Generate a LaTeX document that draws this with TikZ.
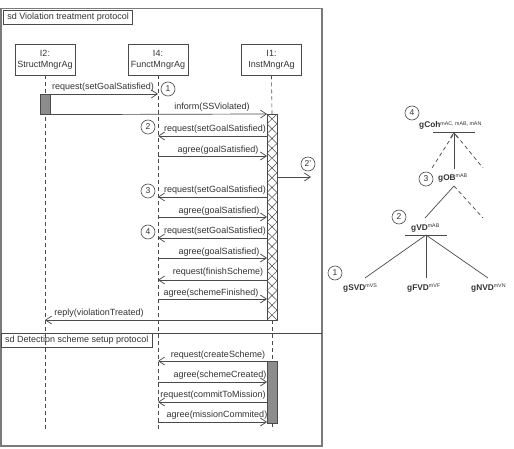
\documentclass[tikz,border=0pt]{standalone}
\usepackage{fontspec}
\setmainfont{Liberation Sans}
\usetikzlibrary{arrows.meta}
\definecolor{ln}{HTML}{4A4A4A}
\definecolor{tx}{HTML}{333333}
\definecolor{fr}{HTML}{7A7A7A}
\definecolor{act}{HTML}{8C8C8C}
\begin{document}
\begin{tikzpicture}[x=1pt,y=-1pt,
  every node/.style={text=tx,font=\fontsize{9}{10}\selectfont,inner sep=0pt},
  msg/.style={draw=ln,line width=0.7pt,-{Straight Barb[length=6pt,width=8pt]}},
  lbl/.style={anchor=center},
  life/.style={draw=ln,line width=0.6pt,dash pattern=on 4pt off 3pt},
  lbox/.style={draw=ln,line width=0.6pt,minimum width=60pt,minimum height=31pt,align=center,font=\fontsize{9}{11}\selectfont},
  sdbox/.style={draw=ln,line width=0.8pt,anchor=north west,fill=white,inner xsep=4pt,inner ysep=3pt},
  num/.style={draw=ln,circle,minimum size=14pt,line width=0.6pt,font=\fontsize{8.5}{9}\selectfont},
  gl/.style={anchor=base west,font=\fontsize{8.3}{9}\bfseries\selectfont},
  tl/.style={draw=ln,line width=0.7pt},
  td/.style={draw=ln,line width=0.7pt,dash pattern=on 4pt off 3pt}]
\useasboundingbox (0,0) rectangle (514,449);
\fill[white] (0,0) rectangle (514,449);
% frame
\draw[fr,line width=1.6pt] (0.8,8.5) -- (322,8.5) -- (322,446) -- (0.8,446) -- cycle;
\draw[ln,line width=0.9pt] (0.8,333) -- (322,333);
\node[sdbox] (sd1) at (3,10) {sd Violation treatment protocol};
\node[sdbox] (sd2) at (0.8,333) {sd Detection scheme setup protocol};
% lifeline heads
\node[lbox] (L2) at (45,59.5) {I2:\\StructMngrAg};
\node[lbox] (L4) at (158,59.5) {I4:\\FunctMngrAg};
\node[lbox] (L1) at (271.5,59.5) {I1:\\InstMngrAg};
% lifelines
\coordinate (e2) at (45,430);
\coordinate (e4) at (158,430);
\draw[life] (L2.south) -- (e2);
\draw[life] (L4.south) -- (e4);
\draw[life] (L1.south) -- (272,114);
\draw[life] (272,320) -- (272,361);
\draw[life] (272,423) -- (272,430);
% activations
\node[draw=ln,fill=act,line width=0.6pt,minimum width=10pt,minimum height=20pt,anchor=north west] (A2) at (40,94) {};
\draw[ln,line width=0.6pt,fill=white] (267,114) rectangle (277,320);
\foreach \i in {0,...,20}{
  \pgfmathsetmacro{\ya}{114+\i*206/21}
  \pgfmathsetmacro{\yb}{114+(\i+1)*206/21}
  \draw[ln,line width=0.5pt] (267,\ya) -- (277,\yb) (277,\ya) -- (267,\yb);
}
\node[draw=ln,fill=act,line width=0.6pt,minimum width=10pt,minimum height=62pt,anchor=north west] (A1b) at (267,361) {};
% coordinates on lifelines
\foreach \n/\y in {a/136,b/156,c/197,d/217,e/238,f/258,g/280,h/299,i/361,j/382,k/402,l/422}{
  \coordinate (p\n) at (158,\y);
  \coordinate (q\n) at (267,\y);
}
\coordinate (r1) at (158,94);
\coordinate (r2) at (267,114);
\coordinate (r3) at (45,320);
\coordinate (r4) at (267,320);
\coordinate (s1) at (277,177);
\coordinate (s2) at (311,177);
% messages
\draw[msg] (A2.north east) -- (r1);
\node[lbl] at (103,87) {request(setGoalSatisfied)};
\draw[msg] (A2.south east) -- (r2);
\node[lbl] at (212,107) {inform(SSViolated)};
\draw[msg] (qa) -- (pa);
\node[lbl] at (215,129.5) {request(setGoalSatisfied)};
\draw[msg] (pb) -- (qb);
\node[lbl] at (218,150) {agree(goalSatisfied)};
\draw[msg] (qc) -- (pc);
\node[lbl] at (215,190.5) {request(setGoalSatisfied)};
\draw[msg] (pd) -- (qd);
\node[lbl] at (219,211) {agree(goalSatisfied)};
\draw[msg] (qe) -- (pe);
\node[lbl] at (215,231.5) {request(setGoalSatisfied)};
\draw[msg] (pf) -- (qf);
\node[lbl] at (219,252) {agree(goalSatisfied)};
\draw[msg] (qg) -- (pg);
\node[lbl] at (218,272.5) {request(finishScheme)};
\draw[msg] (ph) -- (qh);
\node[lbl] at (211,293) {agree(schemeFinished)};
\draw[msg] (r4) -- (r3);
\node[lbl] at (99,313) {reply(violationTreated)};
\draw[msg] (s1) -- (s2);
\draw[msg] (qi) -- (pi);
\node[lbl] at (218,355) {request(createScheme)};
\draw[msg] (pj) -- (qj);
\node[lbl] at (220,375.5) {agree(schemeCreated)};
\draw[msg] (qk) -- (pk);
\node[lbl] at (213,395.5) {request(commitToMission)};
\draw[msg] (pl) -- (ql);
\node[lbl] at (217,415.5) {agree(missionCommited)};
% numbered circles (sequence)
\node[num] (c1) at (168,89) {1};
\node[num] (c2) at (148,127) {2};
\node[num] (c2p) at (308,164) {2'};
\node[num] (c3) at (148,191) {3};
\node[num] (c4) at (148,232) {4};
% goal tree
\node[gl] (gCoh) at (419,128) {gCoh\raisebox{2.5pt}{\fontsize{5.3}{6}\mdseries\selectfont mAC, mAB, mAN}};
\node[gl] (gOB) at (438,180.5) {gOB\raisebox{2.5pt}{\fontsize{5.3}{6}\mdseries\selectfont mAB}};
\node[gl] (gVD) at (411,230) {gVD\raisebox{2.5pt}{\fontsize{5.3}{6}\mdseries\selectfont mAB}};
\node[gl] (gSVD) at (343,290.5) {gSVD\raisebox{2.5pt}{\fontsize{5.3}{6}\mdseries\selectfont mVS}};
\node[gl] (gFVD) at (407,290.5) {gFVD\raisebox{2.5pt}{\fontsize{5.3}{6}\mdseries\selectfont mVF}};
\node[gl] (gNVD) at (471,290.5) {gNVD\raisebox{2.5pt}{\fontsize{5.3}{6}\mdseries\selectfont mVN}};
\node[num] (t4) at (412,113) {4};
\node[num] (t3) at (426,179) {3};
\node[num] (t2) at (399,217) {2};
\node[num] (t1) at (335,273) {1};
\coordinate (b1a) at (433,132);
\coordinate (b1b) at (475,132);
\coordinate (j1) at (454,132);
\coordinate (j1s) at (454,169);
\coordinate (j1l) at (432,168);
\coordinate (j1r) at (483,168);
\draw[tl] (b1a) -- (b1b);
\draw[tl,-{Straight Barb[length=5pt,width=7pt]}] (j1s) -- (j1);
\draw[td] (453,135) -- (j1l);
\draw[td] (456,135) -- (j1r);
\coordinate (j2) at (454,186);
\coordinate (j2l) at (425,218);
\coordinate (j2r) at (483,218);
\draw[tl] (j2) -- (j2l);
\draw[td] (j2) -- (j2r);
\coordinate (b3a) at (405,235);
\coordinate (b3b) at (447,235);
\coordinate (j3) at (426,235);
\draw[tl] (b3a) -- (b3b);
\draw[tl] (j3) -- (365,278);
\draw[tl] (j3) -- (426,278);
\draw[tl] (j3) -- (488,278);
\end{tikzpicture}
\end{document}
